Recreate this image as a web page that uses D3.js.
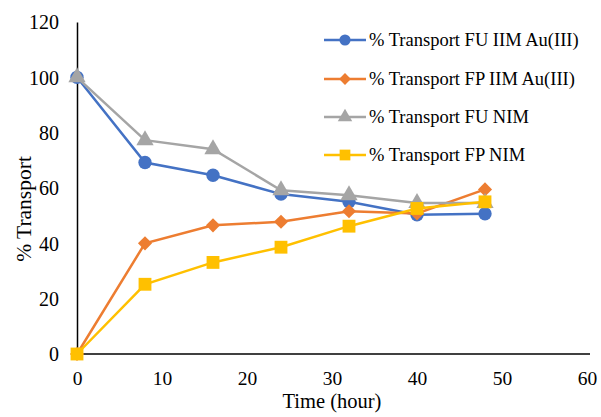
<!DOCTYPE html>
<html><head><meta charset="utf-8">
<script src="https://cdn.jsdelivr.net/npm/d3@7"></script>
<style>body{margin:0;background:#fff}svg{display:block}svg text{font-family:"Liberation Serif","Times New Roman",serif !important;}</style>
</head><body><svg id="c" width="601" height="417"></svg>
<script>
const hours = [0, 8, 16, 24, 32, 40, 48];
const seriesNames = ["% Transport FU IIM Au(III)", "% Transport FP IIM Au(III)", "% Transport FU NIM", "% Transport FP NIM"];
const fuIIM = [100, 69.2, 64.6, 57.8, 55.0, 50.3, 50.7];
const fpIIM = [0, 40.0, 46.5, 47.8, 51.6, 50.8, 59.5];
const fuNIM = [100, 77.3, 74.0, 59.2, 57.4, 54.6, 54.6];
const fpNIM = [0, 25.2, 33.1, 38.6, 46.2, 52.6, 55.0];
const xTicks = [0, 10, 20, 30, 40, 50, 60];
const yTicks = [0, 20, 40, 60, 80, 100, 120];

const colors = ["#4472C4", "#ED7D31", "#A5A5A5", "#FFC000"];
const shapes = [d3.symbolCircle, d3.symbolSquare, d3.symbolTriangle, d3.symbolSquare];
const rot = [0, 45, 0, 0];
const sizes = [140, 100, 130, 165];
const data = [fuIIM, fpIIM, fuNIM, fpNIM];

const svg = d3.select("#c");
const x = d3.scaleLinear().domain([0, 60]).range([77, 587]);
const y = d3.scaleLinear().domain([0, 120]).range([354, 22]);

const xAxis = svg.append("g").attr("transform", "translate(0,354)")
  .call(d3.axisBottom(x).tickValues(xTicks).tickSize(0).tickFormat(d3.format("d")));
xAxis.select(".domain").attr("stroke", "#000").attr("stroke-width", 1.5).attr("d", "M77,0H590");
xAxis.selectAll("text").attr("font-size", 19.5).attr("fill", "#000").attr("y", 31).attr("dy", null);

const yAxis = svg.append("g").attr("transform", "translate(77,0)")
  .call(d3.axisLeft(y).tickValues(yTicks).tickSize(0).tickFormat(d3.format("d")));
yAxis.select(".domain").attr("stroke", "#000").attr("stroke-width", 1.5);
yAxis.selectAll("text").attr("font-size", 20).attr("fill", "#000").attr("x", -18).attr("dy", "0.34em");

svg.append("text").attr("x", 332).attr("y", 408).attr("text-anchor", "middle")
  .attr("font-size", 20.5).text("Time (hour)");
svg.append("text").attr("transform", "translate(31,209) rotate(-90)").attr("text-anchor", "middle")
  .attr("font-size", 21.5).text("% Transport");

const line = d3.line().x((d, i) => x(hours[i])).y(d => y(d));
data.forEach((vals, k) => {
  const g = svg.append("g");
  g.append("path").datum(vals).attr("d", line).attr("fill", "none")
    .attr("stroke", colors[k]).attr("stroke-width", 2.5);
  g.selectAll("path.m").data(vals).enter().append("path").attr("class", "m")
    .attr("transform", (d, i) => `translate(${x(hours[i])},${y(d)}) rotate(${rot[k]})`)
    .attr("d", d3.symbol().type(shapes[k]).size(sizes[k])).attr("fill", colors[k]);
});

const legY = [40, 79, 117, 155];
seriesNames.forEach((name, k) => {
  const g = svg.append("g").attr("transform", `translate(0,${legY[k]})`);
  g.append("line").attr("x1", 324).attr("x2", 366).attr("y1", 0).attr("y2", 0)
    .attr("stroke", colors[k]).attr("stroke-width", 2.5);
  g.append("path").attr("transform", `translate(345,0) rotate(${rot[k]})`)
    .attr("d", d3.symbol().type(shapes[k]).size(sizes[k] * 0.7)).attr("fill", colors[k]);
  g.append("text").attr("x", 369).attr("y", 6)
    .attr("font-size", 18.5).attr("fill", "#000").text(name);
});
</script></body></html>
